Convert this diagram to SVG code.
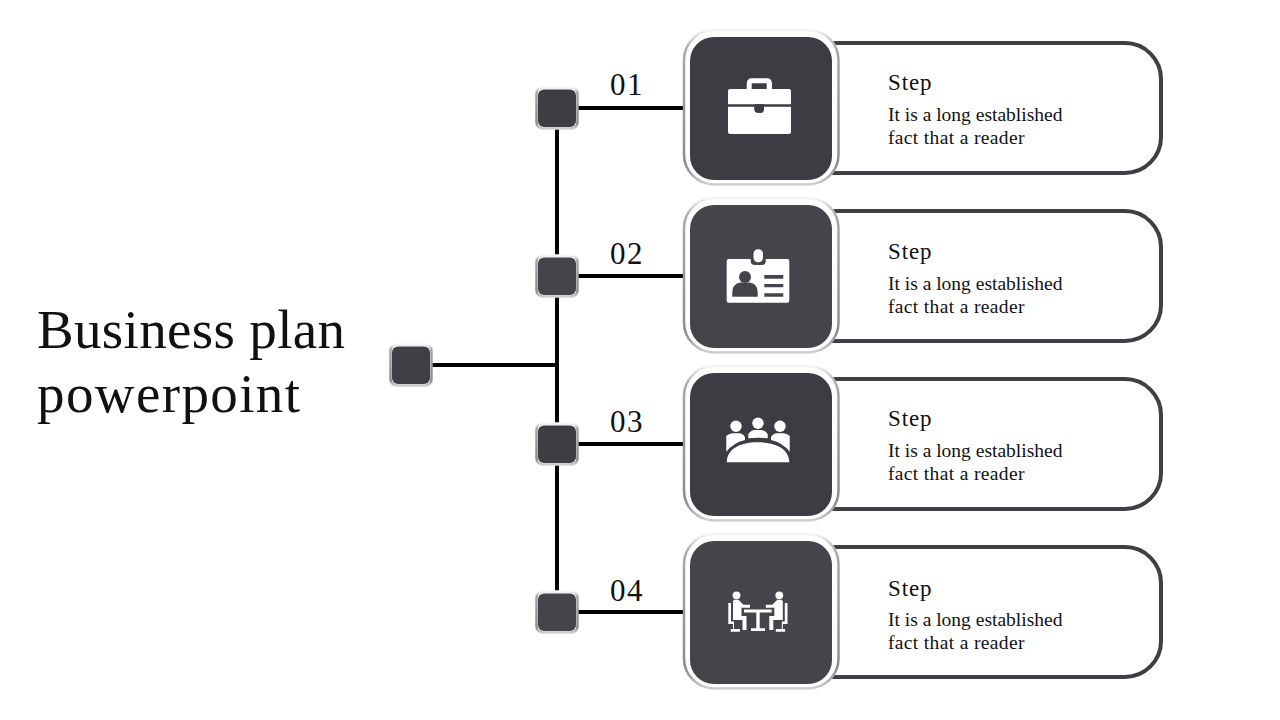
<svg xmlns="http://www.w3.org/2000/svg" width="1280" height="720" viewBox="0 0 1280 720">
<style>
text{font-family:"Liberation Serif","DejaVu Serif",serif;fill:#111}
.title{font-size:55px}
.num{font-size:31px;letter-spacing:1.5px}
.step{font-size:23px;letter-spacing:.9px}
.body{font-size:19.5px}
.b2{letter-spacing:.35px}
.conn{stroke:#000;stroke-width:4;fill:none}
.pill{fill:#fff;stroke:#3f3e45;stroke-width:4}
.frame{fill:#fff;stroke:url(#edge);stroke-width:2.500}
.ic{fill:#fff}
</style>
<defs>
<linearGradient id="edge" x1="0" y1="0" x2="0" y2="1">
<stop offset="0" stop-color="#f6f6f6"/><stop offset="0.12" stop-color="#a8a8a8"/><stop offset="0.88" stop-color="#8c8c8c"/><stop offset="1" stop-color="#cfcfcf"/>
</linearGradient>
<g id="sq"><rect x="-20.500" y="-20.500" width="41" height="41" rx="6" fill="#fff" stroke="url(#edge)" stroke-width="2.500"/><rect x="-19" y="-18.500" width="38" height="37.500" rx="6"/></g>
</defs>
<text class="title" x="37" y="348" textLength="308">Business plan</text>
<text class="title" x="37" y="412" textLength="263">powerpoint</text>
<g id="connectors">
<path class="conn" d="M557 108V612M411 365H557M557 108H684M557 276H684M557 444H684M557 612H684"/>
</g>
<g id="root"><use href="#sq" x="411" y="365" fill="#3f3e45"/></g>
<g id="dot-1"><use href="#sq" x="557" y="108" fill="#3e3d44"/></g>
<g id="dot-2"><use href="#sq" x="557" y="276" fill="#45444b"/></g>
<g id="dot-3"><use href="#sq" x="557" y="444" fill="#3e3d44"/></g>
<g id="dot-4"><use href="#sq" x="557" y="612" fill="#45444b"/></g>
<text class="num" x="610" y="95">01</text>
<text class="num" x="610" y="264">02</text>
<text class="num" x="610" y="432">03</text>
<text class="num" x="610" y="601">04</text>

<g id="node-1">
<rect class="pill" x="790" y="43" width="371" height="130" rx="36"/>
<rect class="frame" x="684" y="30" width="154.500" height="154.500" rx="30"/>
<rect x="690" y="37" width="142" height="143" rx="24" fill="#3d3c43"/>
<path class="ic" d="M746.700 89V84Q746.700 78.300 752 78.300H767Q772 78.300 772 84V89H766.700V83.300H751.700V89Z"/>
<path class="ic" d="M730 89H789Q791 89 791 91V104.300H728V91Q728 89 730 89Z"/>
<path class="ic" d="M728 106.700H754.500V109Q754.500 112.700 758 112.700H761Q764 112.700 764 109V106.700H791V132Q791 134 789 134H730Q728 134 728 132Z"/>
<path d="M754.500 104.300H764V109Q764 112.700 761 112.700H758Q754.500 112.700 754.500 109Z" fill="#3d3c43"/>
<text class="step" x="888" y="90">Step</text>
<text class="body" x="888" y="121">It is a long established</text>
<text class="body b2" x="888" y="144">fact that a reader</text>
</g>

<g id="node-2">
<rect class="pill" x="790" y="211" width="371" height="130" rx="36"/>
<rect class="frame" x="684" y="198" width="154.500" height="154.500" rx="30"/>
<rect x="690" y="205" width="142" height="143" rx="24" fill="#45444b"/>
<path class="ic" d="M728.700 259H750.700V261Q750.700 265 755 265H762Q765.700 265 765.700 261V259H787.300Q789.300 259 789.300 261V300.700Q789.300 302.700 787.300 302.700H728.700Q726.700 302.700 726.700 300.700V261Q726.700 259 728.700 259Z"/>
<rect class="ic" x="753.500" y="249.300" width="9.500" height="13" rx="4.500"/>
<circle cx="745" cy="277" r="6" fill="#45444b"/>
<path d="M732.300 296.700V292Q732.300 284 740 282.500H750Q757.700 284 757.700 292V296.700Z" fill="#45444b"/>
<path d="M764.300 275H783.300V278.700H764.300ZM764.300 284H783.300V287.300H764.300ZM764.300 293.300H783.300V296.700H764.300Z" fill="#45444b"/>
<text class="step" x="888" y="259">Step</text>
<text class="body" x="888" y="290">It is a long established</text>
<text class="body b2" x="888" y="313">fact that a reader</text>
</g>

<g id="node-3">
<rect class="pill" x="790" y="379" width="371" height="130" rx="36"/>
<rect class="frame" x="684" y="366" width="154.500" height="154.500" rx="30"/>
<rect x="690" y="373" width="142" height="143" rx="24" fill="#3d3c43"/>
<path class="ic" d="M726.700 462.300C727 450 738 442.300 758 442.300C778 442.300 789 450 789.300 462.300Z"/>
<circle class="ic" cx="736" cy="426.300" r="5.700"/>
<circle class="ic" cx="758" cy="423.300" r="5.700"/>
<circle class="ic" cx="780" cy="426.300" r="5.700"/>
<path class="ic" d="M748.300 438.300V434Q751 430 755 430H761Q765 430 767.700 434V438.300Q758 437 748.300 438.300Z"/>
<path class="ic" d="M726.300 451.700V436Q729 433.300 733 433.300H739Q743 433.500 745 437V440Q733 443 726.300 451.700Z"/>
<path class="ic" d="M789.700 451.700V436Q787 433.300 783 433.300H777Q773 433.500 771 437V440Q783 443 789.700 451.700Z"/>
<text class="step" x="888" y="426">Step</text>
<text class="body" x="888" y="457">It is a long established</text>
<text class="body b2" x="888" y="480">fact that a reader</text>
</g>

<g id="node-4">
<rect class="pill" x="790" y="547" width="371" height="130" rx="36"/>
<rect class="frame" x="684" y="534" width="154.500" height="154.500" rx="30"/>
<rect x="690" y="541" width="142" height="143" rx="24" fill="#45444b"/>
<g class="ic">
<circle cx="736.500" cy="595.300" r="3.900"/>
<circle cx="779.300" cy="595.300" r="3.900"/>
<path d="M734 599.800H738.500L743.500 604.800H750V607.800H742.500L741.500 607.500V616H746.500V630H742.500V620H733V601Z"/>
<path d="M781.800 599.800H777.300L772.300 604.800H765.800V607.800H773.300L774.300 607.500V616H769.300V630H773.300V620H782.800V601Z"/>
<path d="M728.300 603H731V621.500H734V629H740V631.700H730.700V629H733V624H728.300Z"/>
<path d="M787.500 603H784.800V621.500H781.800V629H775.800V631.700H785.100V629H782.800V624H787.500Z"/>
<path d="M744 609.500H771.700V612.500H759.700V628.300H765V631H751V628.300H756.300V612.500H744Z"/>
</g>
<text class="step" x="888" y="596">Step</text>
<text class="body" x="888" y="626">It is a long established</text>
<text class="body b2" x="888" y="649">fact that a reader</text>
</g>
</svg>
